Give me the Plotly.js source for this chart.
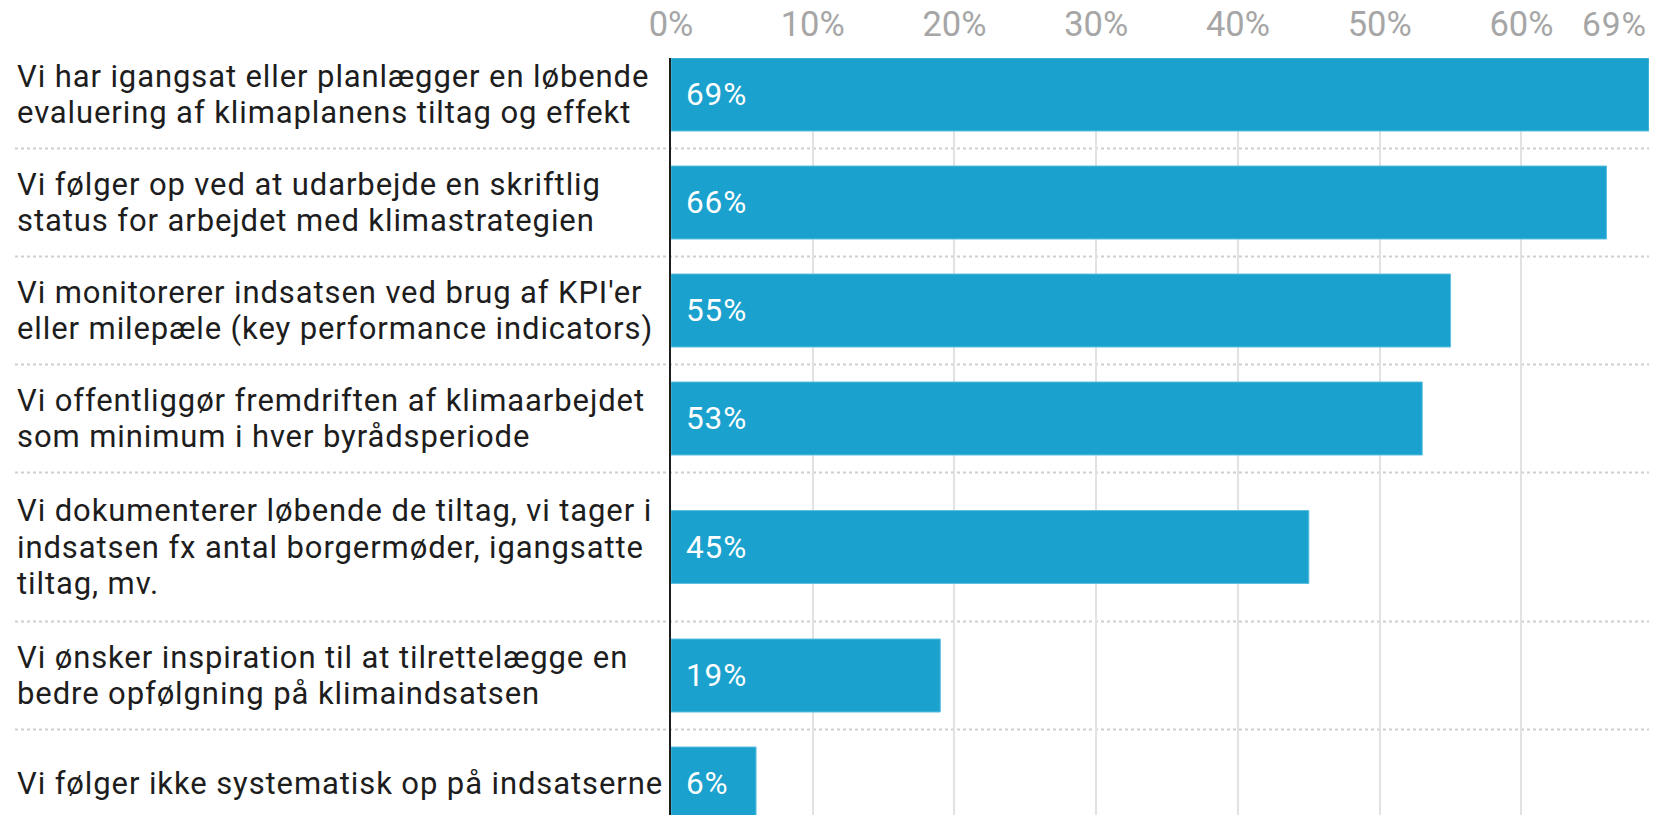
<!DOCTYPE html>
<html>
<head>
<meta charset="utf-8">
<script src="https://cdn.plot.ly/plotly-3.0.1.min.js"></script>
<style>
html,body{margin:0;padding:0;background:#fff;}
#chart{width:1653px;height:815px;}
.annotation-text{letter-spacing:0.9px;}
</style>
</head>
<body>
<div id="chart"></div>
<script>
const categories = [
  "Vi har igangsat eller planlægger en løbende<br>evaluering af klimaplanens tiltag og effekt",
  "Vi følger op ved at udarbejde en skriftlig<br>status for arbejdet med klimastrategien",
  "Vi monitorerer indsatsen ved brug af KPI'er<br>eller milepæle (key performance indicators)",
  "Vi offentliggør fremdriften af klimaarbejdet<br>som minimum i hver byrådsperiode",
  "Vi dokumenterer løbende de tiltag, vi tager i<br>indsatsen fx antal borgermøder, igangsatte<br>tiltag, mv.",
  "Vi ønsker inspiration til at tilrettelægge en<br>bedre opfølgning på klimaindsatsen",
  "Vi følger ikke systematisk op på indsatserne"
];
const values = [69, 66, 55, 53, 45, 19, 6];
const tickVals = [0, 10, 20, 30, 40, 50, 60, 69];
const tickLabels = ["0%", "10%", "20%", "30%", "40%", "50%", "60%", "69%"];

// layout constants
const W = 1653, H = 815;
const mL = 671, mR = 4, mT = 58, mB = 0;
const plotW = W - mL - mR;
const plotH = H - mT - mB;
const baseRow = 108, extraLine = 41, barW = 73, lineH = 36.5;
const pad = (baseRow - barW) / 2;

// row geometry (y axis in pixel-like units, top = 0)
const nLines = categories.map(c => c.split("<br>").length);
const rowH = nLines.map(n => baseRow + Math.max(0, n - 2) * extraLine);
const rowTop = [];
let acc = 0;
rowH.forEach((h, i) => { rowTop.push(acc); acc += h; });
const centers = rowTop.map((t, i) => t + rowH[i] / 2);

const font = "Roboto, 'Open Sans', sans-serif";
const labelXpaper = -(mL - 15) / plotW;
const tickFontSize = 34.5;

const annotations = [];
categories.forEach((c, i) => {
  const lines = c.split("<br>");
  lines.forEach((ln, j) => {
    annotations.push({
      xref: "paper", yref: "y", x: labelXpaper, y: centers[i] + (j - (lines.length - 1) / 2) * lineH,
      xanchor: "left", yanchor: "middle", align: "left", showarrow: false,
      text: ln, font: {family: font, size: 31, color: "#1d1d1d"}
    });
  });
  annotations.push({
    xref: "x", yref: "y", x: 0, y: centers[i], xshift: 13,
    xanchor: "left", yanchor: "middle", showarrow: false,
    text: values[i] + "%", font: {family: font, size: 31.5, color: "#ffffff"}
  });
});
// last x tick label kept inside the chart
annotations.push({
  xref: "x", yref: "paper", x: tickVals[tickVals.length - 1], y: 1, yshift: 12, xshift: 0,
  xanchor: "right", yanchor: "bottom", showarrow: false,
  text: tickLabels[tickLabels.length - 1], font: {family: font, size: 33.5, color: "#a6a6a6"}
});

const shapes = [];
for (let i = 1; i < categories.length; i++) {
  shapes.push({
    type: "line", xref: "paper", yref: "y", x0: labelXpaper, x1: 1, y0: rowTop[i], y1: rowTop[i],
    line: {color: "#cfcfcf", width: 2, dash: "dot"}, layer: "below"
  });
}

const trace = {
  type: "bar", orientation: "h", x: values, y: centers, width: barW,
  marker: {color: "#1aa1cd", line: {color: "#5cc0e2", width: 1}},
  hoverinfo: "none", textposition: "none"
};

const layout = {
  width: W, height: H,
  margin: {l: mL, r: mR, t: mT, b: mB, pad: 0},
  paper_bgcolor: "#fff", plot_bgcolor: "#fff",
  showlegend: false, bargap: 0,
  xaxis: {
    side: "top", range: [0, tickVals[tickVals.length - 1]], tickmode: "array",
    tickvals: tickVals,
    ticktext: tickLabels.map((t, i) => i === tickLabels.length - 1 ? "" : t),
    showgrid: true, gridcolor: "#e2e2e2", gridwidth: 2, zeroline: false, showline: false,
    ticks: "", ticklabelstandoff: 14,
    tickfont: {family: font, size: tickFontSize, color: "#a6a6a6"}, fixedrange: true
  },
  yaxis: {
    range: [pad + plotH, pad], showticklabels: false, showgrid: false, zeroline: false,
    showline: true, linecolor: "#1d1d1d", linewidth: 2, ticks: "", fixedrange: true
  },
  annotations: annotations, shapes: shapes
};

Plotly.newPlot("chart", [trace], layout, {displayModeBar: false, staticPlot: true});
</script>
</body>
</html>
